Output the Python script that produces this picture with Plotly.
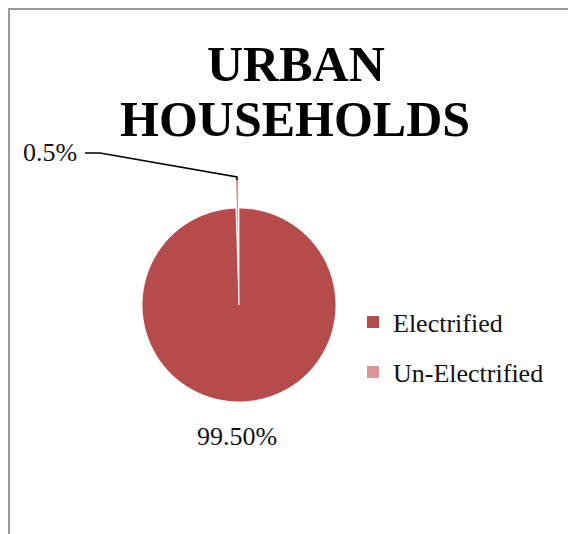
import plotly.graph_objects as go

categories = ["Electrified", "Un-Electrified"]
values = [99.5, 0.5]
label_texts = ["99.50%", "0.5%"]
colors = ["#B54B4A", "#D99694"]

# the page body adds an 8px margin, so the figure is drawn 8px in from the window corner
OFF = 8
W, H = 576 - OFF, 534 - OFF
SERIF = "Liberation Serif, Times New Roman, serif"


def px(X):
    return (X - OFF) / W


def py(Y):
    return 1 - (Y - OFF) / H


CX, CY, HALF = 239, 305, 127

fig = go.Figure()
fig.add_trace(go.Pie(
    labels=categories, values=values, sort=False, direction="clockwise",
    rotation=0, pull=[0, 0.31], textinfo="none", hoverinfo="label+percent",
    marker=dict(colors=colors, line=dict(color="white", width=0.8)),
    showlegend=False,
    domain=dict(x=[px(CX - HALF), px(CX + HALF)], y=[py(CY + HALF), py(CY - HALF)]),
))

# legend entries (one legend per item to reproduce the spacing)
for i, (cat, col) in enumerate(zip(categories, colors)):
    fig.add_trace(go.Scatter(
        x=[None], y=[None], mode="markers", name=cat,
        marker=dict(symbol="square", size=10, color=col),
        legend="legend" if i == 0 else "legend2", showlegend=True,
    ))

leg_common = dict(font=dict(family=SERIF, size=26, color="#111"), bgcolor="rgba(0,0,0,0)",
                  xanchor="left", yanchor="middle", itemsizing="constant")
fig.update_layout(
    width=W, height=H, margin=dict(l=0, r=0, t=0, b=0),
    paper_bgcolor="white", plot_bgcolor="white",
    xaxis=dict(visible=False), yaxis=dict(visible=False),
    legend=dict(x=px(393 - 40), y=py(322), **leg_common),
    legend2=dict(x=px(393 - 40), y=py(372), **leg_common),
    shapes=[
        dict(type="rect", xref="paper", yref="paper", x0=px(9), x1=1.2, y0=-0.2, y1=py(9),
             line=dict(color="#9a9a9a", width=2), fillcolor="rgba(0,0,0,0)", layer="below"),
        dict(type="path", xref="paper", yref="paper",
             path=f"M {px(85)},{py(153)} L {px(100)},{py(153)} L {px(237)},{py(177)} L {px(237)},{py(180)}",
             line=dict(color="black", width=1.5)),
    ],
    annotations=[
        dict(text="<b>URBAN</b>", x=px(296), y=py(64), xref="paper", yref="paper",
             showarrow=False, xanchor="center", yanchor="middle",
             font=dict(family=SERIF, size=50, color="black")),
        dict(text="<b>HOUSEHOLDS</b>", x=px(295), y=py(119), xref="paper", yref="paper",
             showarrow=False, xanchor="center", yanchor="middle",
             font=dict(family=SERIF, size=50, color="black")),
        dict(text=label_texts[1], x=px(21), y=py(152), xref="paper", yref="paper",
             showarrow=False, xanchor="left", yanchor="middle",
             font=dict(family=SERIF, size=26, color="#111")),
        dict(text=label_texts[0], x=px(237), y=py(436), xref="paper", yref="paper",
             showarrow=False, xanchor="center", yanchor="middle",
             font=dict(family=SERIF, size=26, color="#111")),
    ],
)

fig.write_html("out.html")
